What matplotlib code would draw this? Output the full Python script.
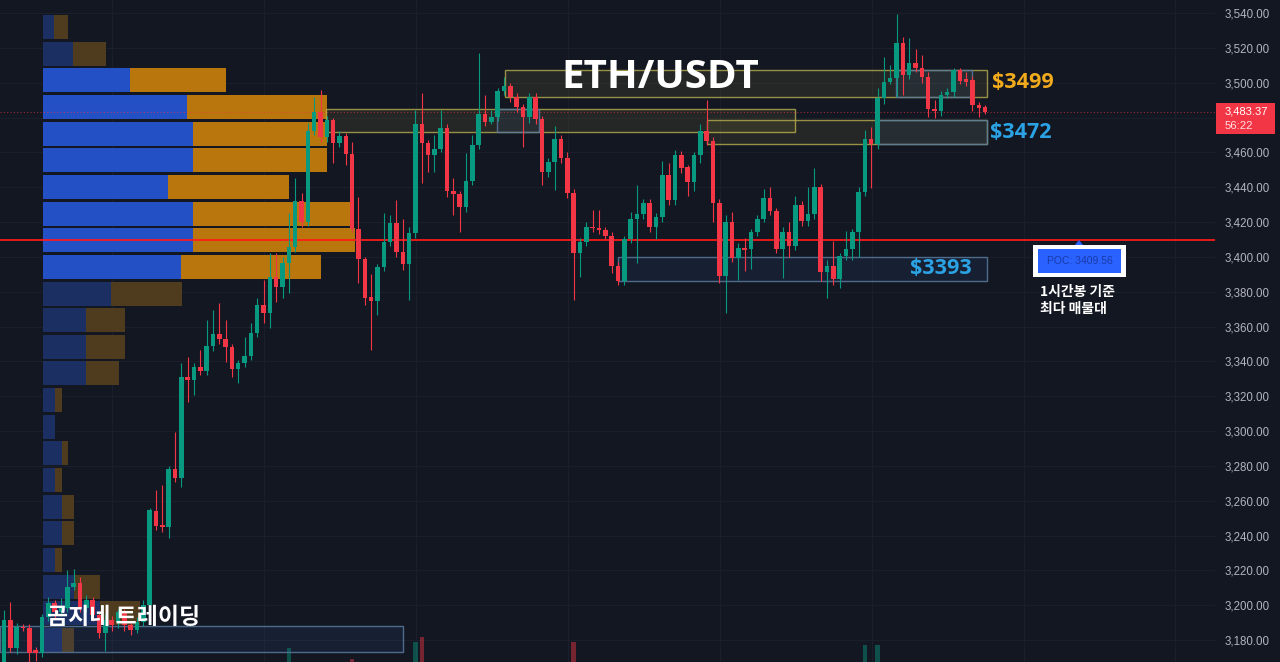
import matplotlib
matplotlib.use('Agg')
import matplotlib.pyplot as plt
from matplotlib.patches import Rectangle, Polygon

# ---------------- data ----------------
opens = [3166, 3191.5, 3175.4, 3187.5, 3186.9, 3174.3, 3172.6, 3193.3, 3201.3, 3196.1,
         3198.4, 3210.5, 3212.8, 3198.4, 3203.0, 3194.4, 3184.0, 3191.5, 3190.4, 3196.1,
         3188.7, 3185.8, 3190.4, 3200.2, 3254.1, 3246.0, 3244.9, 3278.2, 3273.0, 3331.0,
         3329.3, 3336.8, 3334.5, 3348.8, 3355.7, 3352.8, 3348.3, 3335.6, 3339.1, 3343.1,
         3356.3, 3372.4, 3367.8, 3388.4, 3382.7, 3396.5, 3405.7, 3432.1, 3420.0, 3472.3,
         3483.2, 3468.8, 3478.6, 3465.4, 3469.4, 3459.1, 3416.0, 3398.8, 3377.0, 3374.7,
         3394.2, 3408.5, 3419.5, 3402.8, 3395.9, 3413.7, 3476.3, 3465.4, 3458.5, 3462.0,
         3474.0, 3437.8, 3436.1, 3428.6, 3443.6, 3464.2, 3482.0, 3477.4, 3480.3, 3495.2,
         3498.1, 3491.8, 3486.0, 3480.3, 3491.8, 3479.1, 3448.7, 3454.5, 3467.7, 3456.8,
         3436.7, 3402.2, 3408.5, 3417.1, 3416.6, 3415.4, 3412.0, 3394.8, 3386.1, 3410.3,
         3421.7, 3424.6, 3430.9, 3417.1, 3422.9, 3447.0, 3432.6, 3458.5, 3451.6, 3443.0,
         3458.5, 3472.3, 3466.5, 3430.9, 3389.0, 3420.0, 3399.3, 3405.0, 3404.5, 3414.3,
         3421.7, 3433.8, 3426.3, 3404.5, 3414.3, 3406.2, 3429.8, 3420.6, 3424.6, 3440.1,
         3391.3, 3394.8, 3387.3, 3400.5, 3404.5, 3414.3, 3437.2, 3467.7, 3464.8, 3491.2,
         3500.4, 3502.7, 3522.8, 3504.4, 3511.3, 3508.4, 3503.3, 3484.9, 3483.7, 3492.9,
         3494.6, 3507.3, 3502.0, 3501.5, 3487.2, 3486.0]
highs = [3197.3, 3201.9, 3190, 3189, 3189, 3176, 3195, 3205, 3203, 3204,
         3220, 3221, 3216, 3206, 3205, 3196, 3195, 3194, 3198, 3198,
         3190, 3193, 3203, 3256, 3266, 3269, 3280, 3299.5, 3339, 3342.5,
         3339, 3346.5, 3363.8, 3369.5, 3373.5, 3363.8, 3350, 3341, 3354, 3362,
         3376.4, 3386.7, 3402.2, 3402.2, 3400, 3425, 3445.3, 3436.7, 3476.9, 3492,
         3496, 3481, 3480, 3472, 3471, 3466, 3434.4, 3400, 3390, 3396,
         3425.2, 3424, 3432.6, 3422, 3417, 3484.3, 3494, 3467, 3470, 3484.3,
         3476, 3445.3, 3438, 3459.6, 3470, 3517, 3492.9, 3484.3, 3497, 3503.3,
         3500, 3494, 3488, 3494, 3494, 3481, 3457, 3475, 3470, 3460,
         3439, 3411, 3420, 3426.9, 3427, 3417, 3414, 3397, 3412, 3426,
         3441.3, 3433, 3433, 3425, 3455, 3453.9, 3461.4, 3461, 3453, 3460,
         3476, 3490, 3469, 3433, 3424, 3426, 3408, 3411, 3416, 3424,
         3439, 3440, 3428, 3417, 3420, 3435, 3432, 3440, 3451, 3442,
         3398, 3409, 3402, 3415, 3416, 3440, 3472.8, 3474.5, 3497, 3514.7,
         3510, 3539.4, 3526, 3525.6, 3519.3, 3515.9, 3506, 3490, 3495, 3497,
         3508.5, 3508.4, 3506, 3504, 3489, 3487]
lows = [3163, 3173, 3172, 3185, 3166, 3168, 3170, 3191, 3192, 3194,
        3196, 3209, 3196, 3196, 3191, 3181, 3174, 3185, 3187, 3185,
        3183, 3184, 3188, 3198, 3243, 3242, 3238.6, 3271, 3268, 3316.7,
        3320.7, 3332, 3332, 3346, 3350, 3339.6, 3331, 3327.6, 3337, 3341,
        3354, 3362, 3359.2, 3374.1, 3376.4, 3379, 3403, 3417, 3418, 3470,
        3466, 3466, 3453.9, 3463, 3452.7, 3414, 3385, 3372.4, 3346.5, 3366.6,
        3392, 3406, 3400, 3392.5, 3375.2, 3411, 3442.4, 3448.7, 3448.7, 3460,
        3434.4, 3424, 3414.3, 3426, 3441, 3462, 3475, 3476, 3478, 3493,
        3489, 3483, 3463, 3477, 3476, 3441.3, 3446, 3438.4, 3454, 3434,
        3375.2, 3388.4, 3406, 3414, 3413, 3410, 3390.7, 3384, 3383.8, 3408,
        3396.5, 3422, 3414, 3410, 3420, 3430, 3430, 3448, 3435, 3437.8,
        3454, 3464, 3420, 3385, 3367.8, 3397, 3387, 3392, 3393, 3412,
        3420, 3424, 3402, 3388, 3400, 3404, 3418, 3418, 3422, 3386,
        3376.4, 3384, 3382, 3398, 3398, 3400, 3435, 3439.5, 3462, 3488,
        3499, 3492, 3493, 3502, 3506, 3500, 3480.3, 3480, 3480.6, 3491,
        3492, 3499, 3498, 3484, 3480.3, 3482]
closes = [3191.5, 3175.4, 3187.5, 3186.9, 3172.6, 3172.6, 3193.3, 3201.3, 3196.1, 3199.0,
          3210.5, 3212.8, 3198.4, 3203.0, 3194.4, 3184.0, 3191.5, 3188.7, 3196.1, 3188.7,
          3185.8, 3190.4, 3200.2, 3254.6, 3245.5, 3244.9, 3278.2, 3273.0, 3331.0, 3329.3,
          3336.8, 3334.5, 3348.8, 3355.7, 3352.8, 3348.3, 3335.6, 3339.1, 3343.1, 3356.3,
          3372.4, 3367.8, 3388.4, 3382.7, 3396.5, 3405.7, 3432.1, 3420.0, 3472.3, 3483.2,
          3468.8, 3478.6, 3465.4, 3469.4, 3459.1, 3416.0, 3398.8, 3376.4, 3374.7, 3394.2,
          3408.5, 3419.5, 3402.8, 3395.9, 3413.7, 3476.3, 3465.4, 3458.5, 3462.0, 3474.0,
          3437.8, 3436.1, 3428.6, 3443.6, 3464.2, 3482.0, 3477.4, 3480.3, 3495.2, 3498.1,
          3491.8, 3486.0, 3480.3, 3491.8, 3479.1, 3448.7, 3454.5, 3467.7, 3456.8, 3436.7,
          3402.2, 3408.5, 3417.1, 3416.6, 3415.4, 3412.0, 3394.8, 3386.1, 3410.3, 3421.7,
          3424.6, 3430.9, 3417.1, 3422.9, 3447.0, 3432.6, 3458.5, 3451.0, 3443.0, 3458.5,
          3472.3, 3466.5, 3430.9, 3389.0, 3420.0, 3399.3, 3405.1, 3404.0, 3414.3, 3421.7,
          3433.8, 3426.3, 3404.5, 3414.3, 3406.2, 3429.8, 3420.6, 3424.6, 3440.1, 3391.3,
          3394.8, 3387.3, 3400.5, 3404.5, 3414.3, 3437.2, 3467.7, 3464.8, 3491.2, 3500.4,
          3502.7, 3522.8, 3504.4, 3511.3, 3508.4, 3503.3, 3484.9, 3483.7, 3492.9, 3494.6,
          3507.3, 3501.0, 3500.4, 3487.2, 3485.5, 3483.37]

price_ticks = [3180, 3200, 3220, 3240, 3260, 3280, 3300, 3320, 3340, 3360,
               3380, 3400, 3420, 3440, 3460, 3480, 3500, 3520, 3540]
last_price = 3483.37
countdown = "56:22"
poc_price = 3409.56

# visible volume bars (candle index, volume)
vol_idx = [45, 55, 65, 66, 90, 136, 138]
vol_val = [14, 3, 20, 25, 20, 17, 17]

# volume profile (24 rows, top -> bottom)
vp_top = 3539.5
vp_bottom = 3172.5
vp_buy = [11, 30, 87, 144, 150, 150, 125, 150, 150, 138, 68, 43,
          43, 43, 12, 12, 19, 12, 19, 19, 12, 31, 57, 19]
vp_sell = [14, 33, 96, 140, 134, 134, 121, 157, 162, 140, 71, 39,
           39, 33, 7, 0, 6, 7, 12, 12, 7, 26, 40, 12]
vp_value_area = [False, False, True, True, True, True, True, True, True, True, False, False,
                 False, False, False, False, False, False, False, False, False, False, False, False]

# zones: (start index, end index, top price, bottom price, kind)
zones = [(79.1, 155.3, 3507.0, 3491.8, 'y'),
         (50.8, 125.0, 3484.9, 3471.4, 'y'),
         (111.0, 155.3, 3478.3, 3465.0, 'y'),
         (137.9, 155.3, 3478.3, 3465.0, 'b'),
         (140.9, 153.0, 3507.0, 3491.8, 'b'),
         (77.9, 84.5, 3484.9, 3471.4, 'b'),
         (97.0, 155.3, 3400.2, 3386.4, 'b'),
         (-0.7, 63.0, 3187.8, 3173.4, 'b')]

# ---------------- style ----------------
BG = '#131722'
UP = '#089981'
DN = '#f23645'
GRID = '#1b1f2b'
W, H = 1280, 662
PLOT_W = 1215
YMIN, YMAX = 3167.41, 3547.46
XMIN, XMAX = -0.632, 191.31
KFONT = ['Noto Sans CJK KR', 'DejaVu Sans']

fig = plt.figure(figsize=(W / 100, H / 100), dpi=100, facecolor=BG)
rect = [0, 0, PLOT_W / W, 1]

def fx(x):
    return x / W

def fy(y):
    return 1 - y / H

# --- grid layer (very bottom) ---
ax_g = fig.add_axes(rect, zorder=-1)
ax_g.set_facecolor(BG)
ax_g.set_xlim(XMIN, XMAX)
ax_g.set_ylim(YMIN, YMAX)
for p in price_ticks:
    ax_g.axhline(p, color=GRID, lw=0.8)
for k in range(8):
    ax_g.axvline(17.06 + 24 * k, color=GRID, lw=0.8)
ax_g.axis('off')

# --- volume profile layer ---
ax_vp = fig.add_axes(rect, zorder=0)
ax_vp.patch.set_alpha(0)
ax_vp.set_xlim(-43, PLOT_W - 43)
ax_vp.set_ylim(YMIN, YMAX)
row_h = (vp_top - vp_bottom) / len(vp_buy)
for i, (b, s, va) in enumerate(zip(vp_buy, vp_sell, vp_value_area)):
    yc = vp_top - (i + 0.5) * row_h
    cb = '#2450c6' if va else '#1c2f62'
    cs = '#b9760c' if va else '#4f3b1e'
    ax_vp.barh(yc, b, height=row_h * 0.9, left=0, color=cb, zorder=2)
    if s > 0:
        ax_vp.barh(yc, s, height=row_h * 0.9, left=b, color=cs, zorder=2)
ax_vp.axis('off')

# --- volume layer ---
ax_vol = fig.add_axes(rect, zorder=0.5)
ax_vol.patch.set_alpha(0)
ax_vol.set_xlim(XMIN, XMAX)
ax_vol.set_ylim(0, 662)
ax_vol.bar(vol_idx, vol_val, width=0.72,
           color=[UP if closes[i] >= opens[i] else DN for i in vol_idx], alpha=0.45)
ax_vol.axis('off')

# --- main price layer ---
ax = fig.add_axes(rect, zorder=1)
ax.patch.set_alpha(0)
ax.set_xlim(XMIN, XMAX)
ax.set_ylim(YMIN, YMAX)

for (x0, x1, pt, pb, kind) in zones:
    if kind == 'y':
        fc = (0.85, 0.80, 0.30, 0.09)
        ec = (0.72, 0.68, 0.30, 0.8)
    else:
        fc = (0.25, 0.45, 0.75, 0.10)
        ec = (0.35, 0.48, 0.62, 0.85)
    ax.add_patch(Rectangle((x0, pb), x1 - x0, pt - pb, facecolor=fc,
                           edgecolor=ec, lw=1.0, zorder=1))

# current price dotted line & POC line
ax.axhline(last_price, color=DN, lw=0.8, ls=(0, (1, 2)), alpha=0.6, zorder=1.5)
ax.axhline(poc_price, color='#ff1a1a', lw=1.4, alpha=0.9, zorder=1.6)

for i, (o, h, l, c) in enumerate(zip(opens, highs, lows, closes)):
    col = UP if c >= o else DN
    ax.vlines(i, l, h, color=col, lw=0.8, zorder=3)
    bot = min(o, c)
    hgt = max(abs(c - o), 0.8)
    ax.add_patch(Rectangle((i - 0.36, bot), 0.72, hgt, facecolor=col,
                           edgecolor='none', zorder=4))

# price axis labels (the 3,480 label sits under the last-price tag)
shown_ticks = [p for p in price_ticks if abs(p - last_price) > 8]
ax.yaxis.tick_right()
ax.set_yticks(shown_ticks)
ax.set_yticklabels([f"{p:,.2f}" for p in shown_ticks])
ax.tick_params(axis='y', length=0, pad=7.2, labelsize=8.3, labelcolor='#b2b5be')
for lab in ax.get_yticklabels():
    lab.set_family('Liberation Sans')
ax.set_xticks([])
for sp in ax.spines.values():
    sp.set_visible(False)

# --- annotations ---
fig.text(fx(660), fy(78), 'ETH/USDT', color='white', fontsize=29, fontweight='bold',
         family=['Open Sans', 'DejaVu Sans'], ha='center', va='center')
fig.text(fx(992), fy(82), '$3499', color='#f0aa1c', fontsize=15.5, fontweight='bold',
         family=['Open Sans', 'DejaVu Sans'], ha='left', va='center')
fig.text(fx(990), fy(133), '$3472', color='#2ba2e4', fontsize=15.5, fontweight='bold',
         family=['Open Sans', 'DejaVu Sans'], ha='left', va='center')
fig.text(fx(972), fy(268), '$3393', color='#2ba2e4', fontsize=15.5, fontweight='bold',
         family=['Open Sans', 'DejaVu Sans'], ha='right', va='center')
fig.text(fx(47), fy(617), '곰지네 트레이딩', color='white', fontsize=16.5, fontweight='bold',
         family=KFONT, ha='left', va='center')
fig.text(fx(1040), fy(292), '1시간봉 기준', color='white', fontsize=10, fontweight='bold',
         family=KFONT, ha='left', va='center')
fig.text(fx(1040), fy(309), '최다 매물대', color='white', fontsize=10, fontweight='bold',
         family=KFONT, ha='left', va='center')

# POC label box
fig.patches.append(Rectangle((fx(1033), fy(277)), 93 / W, 32 / H, transform=fig.transFigure,
                             facecolor='white', edgecolor='none', zorder=5))
fig.patches.append(Rectangle((fx(1038), fy(273)), 83 / W, 24 / H, transform=fig.transFigure,
                             facecolor='#2962ff', edgecolor='none', zorder=6))
fig.patches.append(Polygon([(fx(1075), fy(245)), (fx(1083), fy(245)), (fx(1079), fy(240))],
                           closed=True, transform=fig.transFigure, facecolor='#2962ff',
                           edgecolor='none', zorder=6))
fig.text(fx(1079.5), fy(261), f'POC: {poc_price:.2f}', color='#1a3aa8', fontsize=7.5,
         family='Liberation Sans', ha='center', va='center', zorder=7)

# last price tag
fig.patches.append(Rectangle((fx(1216), fy(134)), 59 / W, 31 / H, transform=fig.transFigure,
                             facecolor=DN, edgecolor='none', zorder=5))
fig.text(fx(1225), fy(111), f'{last_price:,.2f}', color='white', fontsize=8.1,
         family='Liberation Sans', ha='left', va='center', zorder=7)
fig.text(fx(1225), fy(126), countdown, color='#ffe0e3', fontsize=8.1,
         family='Liberation Sans', ha='left', va='center', zorder=7)

fig.savefig('out.png', dpi=100, facecolor=BG)
